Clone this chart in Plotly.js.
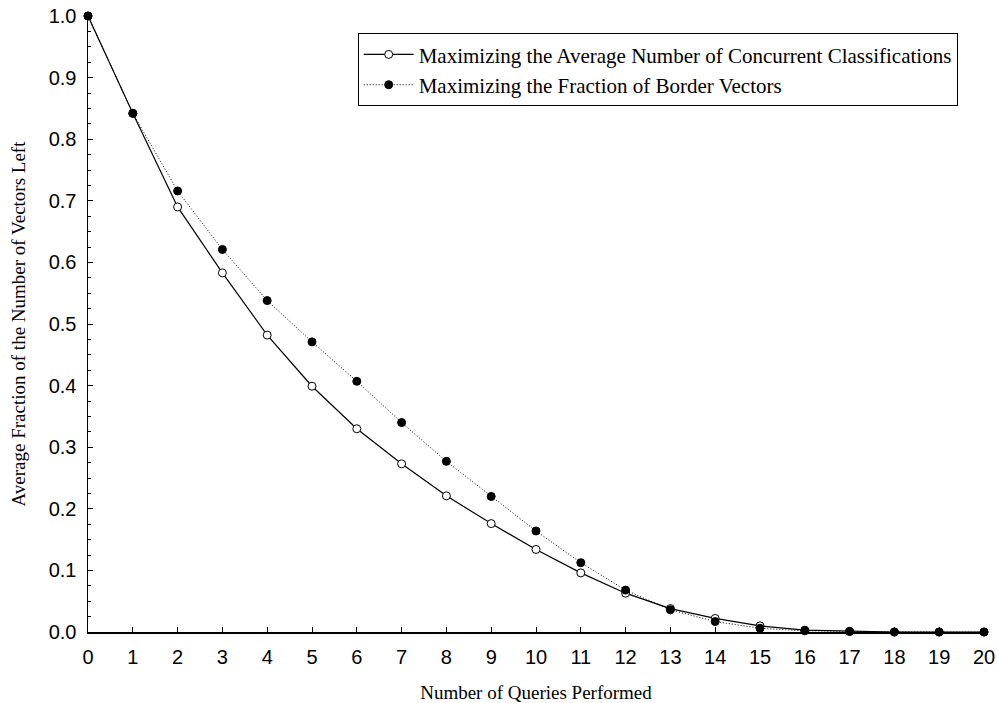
<!DOCTYPE html>
<html>
<head>
<meta charset="utf-8">
<script src="https://cdn.plot.ly/plotly-3.0.1.min.js"></script>
<style>html,body{margin:0;padding:0;background:#fff;}#chart{width:998px;height:703px;}</style>
</head>
<body>
<div id="chart"></div>
<script>
const queries = [0,1,2,3,4,5,6,7,8,9,10,11,12,13,14,15,16,17,18,19,20];
const concurrentFrac = [1.0,0.842,0.690,0.583,0.482,0.399,0.330,0.273,0.221,0.176,0.134,0.096,0.063,0.038,0.022,0.010,0.003,0.001,0.0,0.0,0.0];
const borderFrac = [1.0,0.842,0.716,0.621,0.538,0.471,0.407,0.340,0.277,0.220,0.164,0.1125,0.068,0.036,0.017,0.006,0.002,0.001,0.0,0.0,0.0];
const seriesNames = ["Maximizing the Average Number of Concurrent Classifications","Maximizing the Fraction of Border Vectors"];
const yTickVals = [0,0.1,0.2,0.3,0.4,0.5,0.6,0.7,0.8,0.9,1.0];

const traces = [
  {x: queries, y: concurrentFrac, name: seriesNames[0], mode: 'lines+markers', cliponaxis: false,
   line: {color: '#000', width: 1.2, dash: 'solid'},
   marker: {symbol: 'circle', size: 8, color: '#fff', line: {color: '#000', width: 1}}},
  {x: queries, y: borderFrac, name: seriesNames[1], mode: 'lines+markers', cliponaxis: false,
   line: {color: '#000', width: 1, dash: '1px,2px'},
   marker: {symbol: 'circle', size: 8, color: '#000', line: {color: '#000', width: 1}}}
];

const layout = {
  width: 998, height: 703,
  margin: {l: 88, r: 14, t: 16, b: 71},
  paper_bgcolor: '#fff', plot_bgcolor: '#fff',
  showlegend: true,
  legend: {x: 0.301, y: 0.972, xanchor: 'left', yanchor: 'top',
    bordercolor: '#000', borderwidth: 1, bgcolor: '#fff', itemwidth: 50,
    font: {family: 'Liberation Serif, Times New Roman, serif', size: 21, color: '#000'},
    tracegroupgap: 0},
  xaxis: {range: [0, 20], tickvals: queries, showgrid: false, zeroline: false, automargin: false,
    showline: true, linecolor: '#000', linewidth: 1.5,
    ticks: 'inside', ticklen: 5, tickcolor: '#000', tickwidth: 1, ticklabelstandoff: 6,
    tickfont: {family: 'Liberation Sans, Arial, sans-serif', size: 20, color: '#000'},
    title: {text: 'Number of Queries Performed',
      font: {family: 'Liberation Serif, Times New Roman, serif', size: 19, color: '#000'}}},
  yaxis: {range: [0, 1], tickvals: yTickVals, tickformat: '.1f', showgrid: false, zeroline: false, automargin: 'left',
    showline: true, linecolor: '#000', linewidth: 1.5,
    ticks: 'inside', ticklen: 5, tickcolor: '#000', tickwidth: 1, ticklabelstandoff: 6,
    minor: {dtick: 0.025, ticks: 'inside', ticklen: 3, tickcolor: '#000', showgrid: false},
    tickfont: {family: 'Liberation Sans, Arial, sans-serif', size: 20, color: '#000'},
    title: {text: 'Average Fraction of the Number of Vectors Left', standoff: 18,
      font: {family: 'Liberation Serif, Times New Roman, serif', size: 19, color: '#000'}}}
};

Plotly.newPlot('chart', traces, layout, {displayModeBar: false, staticPlot: true});
</script>
</body>
</html>
